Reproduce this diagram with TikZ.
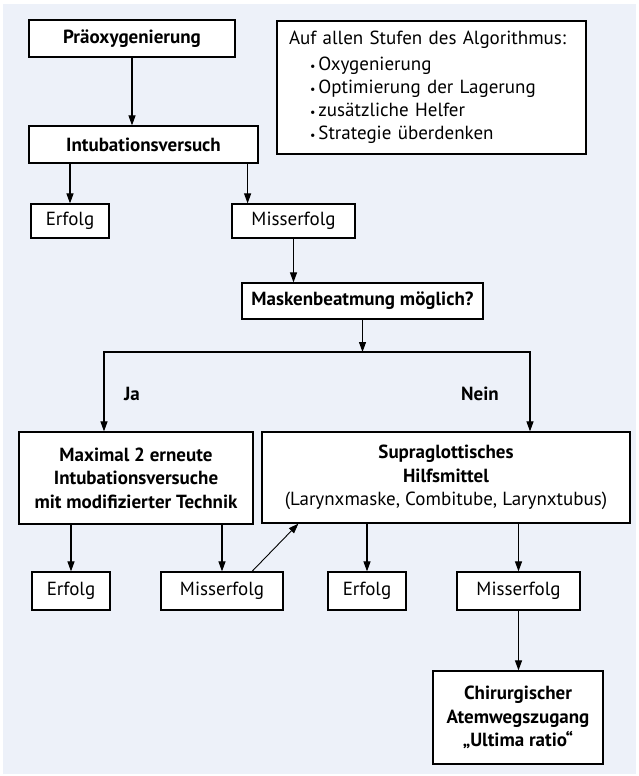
\documentclass[tikz,border=0pt]{standalone}
\usepackage{fontspec}
\setmainfont{PT Sans}
\usetikzlibrary{arrows.meta,calc}
\definecolor{bg}{RGB}{237,241,249}
\begin{document}
\begin{tikzpicture}[x=1pt,y=-1pt,
  box/.style={draw=black, line width=1.2pt, fill=white, inner sep=0pt, align=center, font=\fontsize{19}{23.5}\selectfont},
  bbox/.style={box, font=\fontsize{19}{23.5}\selectfont\bfseries},
  arr/.style={-{Triangle[length=10pt,width=7pt]}, line width=1.1pt},
  lbl/.style={font=\fontsize{19}{20}\selectfont\bfseries}]
\useasboundingbox (0,0) rectangle (638,776);
\fill[bg] (3,4) rectangle (636,774);

% top boxes
\node[bbox, minimum width=206pt, minimum height=37pt] (pre) at (132,38.5) {Präoxygenierung};
\node[bbox, minimum width=229pt, minimum height=37pt] (intu) at (143.5,144.5) {Intubationsversuch};
\node[box, minimum width=78pt, minimum height=34pt] (e1) at (70,221) {Erfolg};
\node[box, minimum width=123pt, minimum height=34pt] (m1) at (293.5,221) {Misserfolg};
\node[box, align=left, text width=285pt, inner xsep=12pt, minimum height=133pt,
  font=\fontsize{19}{23.2}\selectfont] (info) at (431.5,87.5)
  {Auf allen Stufen des Algorithmus:\\[2pt]
   \hspace*{21pt}{\fontsize{12}{12}\selectfont\textbullet}\hspace{3pt}Oxygenierung\\
   \hspace*{21pt}{\fontsize{12}{12}\selectfont\textbullet}\hspace{3pt}Optimierung der Lagerung\\
   \hspace*{21pt}{\fontsize{12}{12}\selectfont\textbullet}\hspace{3pt}zusätzliche Helfer\\
   \hspace*{21pt}{\fontsize{12}{12}\selectfont\textbullet}\hspace{3pt}Strategie überdenken};
\node[bbox, minimum width=241pt, minimum height=36pt] (mask) at (362.5,301) {Maskenbeatmung möglich?};

% middle
\node[bbox, minimum width=234pt, minimum height=92pt] (max) at (136,478)
  {Maximal 2 erneute\\Intubationsversuche\\mit modifizierter Technik};
\node[box, minimum width=368pt, minimum height=91pt] (supra) at (446,477.5)
  {\textbf{Supraglottisches}\\\textbf{Hilfsmittel}\\(Larynxmaske, Combitube, Larynxtubus)};
\node[lbl] (ja) at (132,394) {Ja};
\node[lbl] (nein) at (480,394) {Nein};

% bottom row
\node[box, minimum width=78pt, minimum height=38pt] (e2) at (71,591) {Erfolg};
\node[box, minimum width=122pt, minimum height=38pt] (m2) at (222,591) {Misserfolg};
\node[box, minimum width=78pt, minimum height=38pt] (e3) at (367,591) {Erfolg};
\node[box, minimum width=123pt, minimum height=38pt] (m3) at (518.5,591) {Misserfolg};
\node[bbox, minimum width=170pt, minimum height=93pt] (chir) at (518,717.5)
  {Chirurgischer\\Atemwegszugang\\„Ultima ratio“};

% helper coordinates
\coordinate (i2) at ([xshift=-11pt]intu.south east);
\coordinate (lineY) at (0,352);
\coordinate (split) at (mask.south |- lineY);
\coordinate (jl) at ([xshift=-32pt]max.north);
\coordinate (jr) at ([xshift=84pt]supra.north);
\coordinate (m2t) at ([xshift=30pt]m2.north);
\coordinate (sb) at ([xshift=37pt]supra.south west);

% connectors
\draw[arr] (pre.south) -- (pre.south |- intu.north);
\draw[arr] (e1.north |- intu.south) -- (e1.north);
\draw[arr] (i2) -- (i2 |- m1.north);
\draw[arr] (m1.south) -- (m1.south |- mask.north);
\draw[arr] (mask.south) -- (split);
\draw[arr] (split) -- (jl |- split) -- (jl);
\draw[arr] (split) -- (jr |- split) -- (jr);
\draw[arr] (e2.north |- max.south) -- (e2.north);
\draw[arr] (m2.north |- max.south) -- (m2.north);
\draw[arr, line width=0.9pt] (m2t) -- (sb);
\draw[arr] (e3.north |- supra.south) -- (e3.north);
\draw[arr] (m3.north |- supra.south) -- (m3.north);
\draw[arr] (m3.south) -- (m3.south |- chir.north);
\end{tikzpicture}
\end{document}
